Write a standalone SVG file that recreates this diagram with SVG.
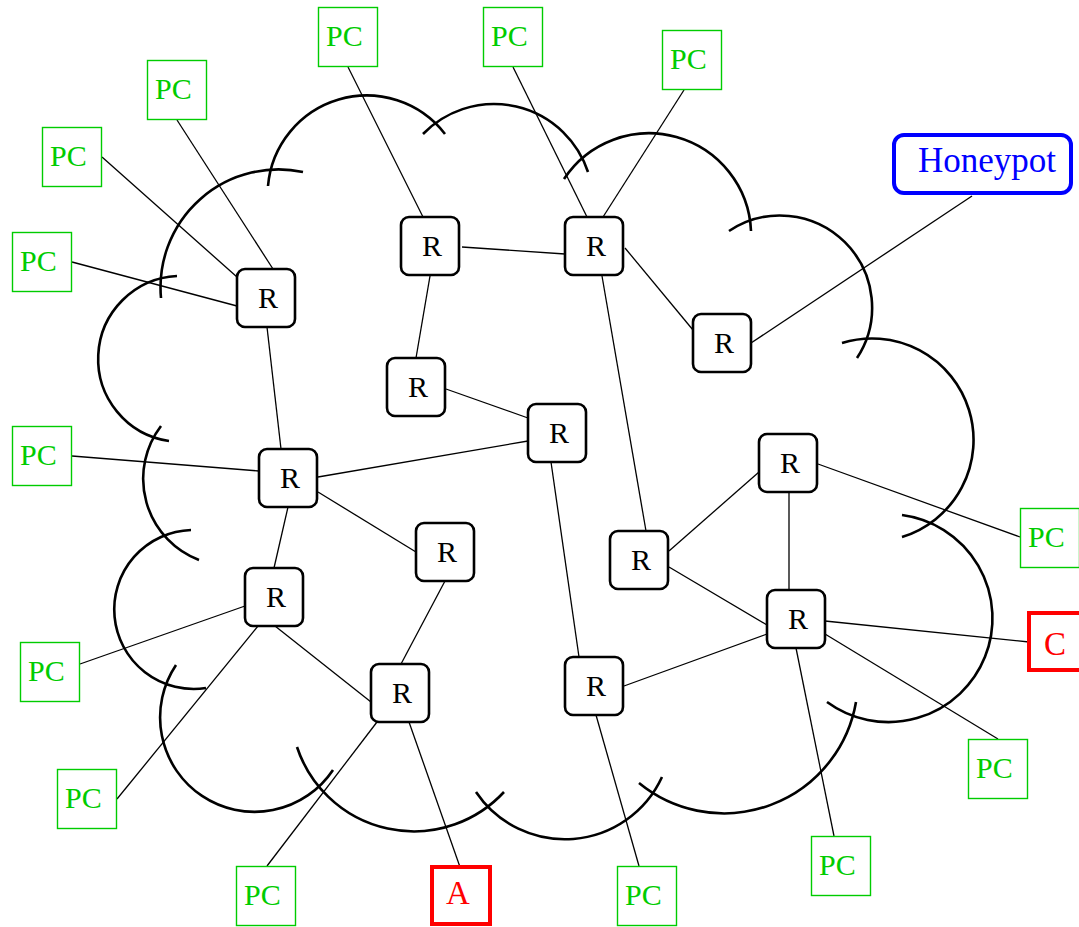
<svg xmlns="http://www.w3.org/2000/svg" width="1079" height="927" viewBox="0 0 1079 927">
<style>
.cloud{fill:none;stroke:#000;stroke-width:2.6}
.ln{stroke:#000;stroke-width:1.3;fill:none}
.r rect{fill:#fff;stroke:#000;stroke-width:2.6}
.r text{font-family:"Liberation Serif",serif;font-size:30px;fill:#000;text-anchor:middle}
.pc rect{fill:#fff;stroke:#00cc00;stroke-width:1.4}
.pc text{font-family:"Liberation Serif",serif;font-size:30px;fill:#00cc00}
.red rect{fill:#fff;stroke:#ff0000;stroke-width:4}
.red text{font-family:"Liberation Serif",serif;font-size:33px;fill:#ff0000;text-anchor:middle}
</style>
<rect width="1079" height="927" fill="#fff"/>
<g id="cloud">
<path class="cloud" d="M268,186 A99,99 0 0 1 445,134"/>
<path class="cloud" d="M423,134 A99,99 0 0 1 588,172"/>
<path class="cloud" d="M564,179 A102,102 0 0 1 751,231"/>
<path class="cloud" d="M729,231 A92,92 0 0 1 857,358"/>
<path class="cloud" d="M842,343 A101,101 0 1 1 902,537"/>
<path class="cloud" d="M902,515 A104,104 0 1 1 827,702"/>
<path class="cloud" d="M856,702 A134,134 0 0 1 639,783"/>
<path class="cloud" d="M662,777 A107,107 0 0 1 476,792"/>
<path class="cloud" d="M504,792 A123,123 0 0 1 297,747"/>
<path class="cloud" d="M333,770 A94,94 0 0 1 176,665"/>
<path class="cloud" d="M206,688 A79.5,79.5 0 1 1 191,530"/>
<path class="cloud" d="M199,560 A87,87 0 0 1 161,426"/>
<path class="cloud" d="M169,441 A83,83 0 0 1 177,276"/>
<path class="cloud" d="M161,298 A118,118 0 0 1 303,172"/>
</g>
<g id="connectors">
<line class="ln" x1="102" y1="157" x2="237" y2="277"/>
<line class="ln" x1="177" y1="120" x2="273" y2="269"/>
<line class="ln" x1="72" y1="262" x2="237" y2="306"/>
<line class="ln" x1="348" y1="67" x2="423" y2="217"/>
<line class="ln" x1="513" y1="67" x2="587" y2="217"/>
<line class="ln" x1="684" y1="90" x2="603" y2="217"/>
<line class="ln" x1="462" y1="247" x2="565" y2="254"/>
<line class="ln" x1="430" y1="276" x2="416" y2="358"/>
<line class="ln" x1="602" y1="276" x2="646" y2="531"/>
<line class="ln" x1="625" y1="248" x2="693" y2="330"/>
<line class="ln" x1="972" y1="196" x2="751" y2="343"/>
<line class="ln" x1="267" y1="327" x2="281" y2="449"/>
<line class="ln" x1="72" y1="456" x2="259" y2="471"/>
<line class="ln" x1="318" y1="477" x2="528" y2="441"/>
<line class="ln" x1="318" y1="492" x2="416" y2="552"/>
<line class="ln" x1="288" y1="507" x2="274" y2="568"/>
<line class="ln" x1="245" y1="606" x2="80" y2="664"/>
<line class="ln" x1="446" y1="389" x2="528" y2="418"/>
<line class="ln" x1="551" y1="462" x2="579" y2="657"/>
<line class="ln" x1="445" y1="581" x2="401" y2="664"/>
<line class="ln" x1="669" y1="551" x2="759" y2="472"/>
<line class="ln" x1="669" y1="567" x2="767" y2="625"/>
<line class="ln" x1="818" y1="464" x2="1020" y2="537"/>
<line class="ln" x1="789" y1="492" x2="789" y2="590"/>
<line class="ln" x1="258" y1="626" x2="117" y2="799"/>
<line class="ln" x1="275" y1="626" x2="371" y2="702"/>
<line class="ln" x1="377" y1="722" x2="267" y2="866"/>
<line class="ln" x1="409" y1="722" x2="460" y2="867"/>
<line class="ln" x1="596" y1="715" x2="639" y2="866"/>
<line class="ln" x1="624" y1="686" x2="767" y2="634"/>
<line class="ln" x1="825" y1="621" x2="1029" y2="642"/>
<line class="ln" x1="825" y1="634" x2="998" y2="739"/>
<line class="ln" x1="796" y1="648" x2="834" y2="836"/>
</g>
<g id="R1" class="r"><rect x="237" y="269" width="58" height="58" rx="8"/><text x="268" y="308">R</text></g>
<g id="R2" class="r"><rect x="401" y="217" width="58" height="58" rx="8"/><text x="432" y="256">R</text></g>
<g id="R3" class="r"><rect x="565" y="217" width="58" height="58" rx="8"/><text x="596" y="256">R</text></g>
<g id="R4" class="r"><rect x="693" y="314" width="58" height="58" rx="8"/><text x="724" y="353">R</text></g>
<g id="R5" class="r"><rect x="387" y="358" width="58" height="58" rx="8"/><text x="418" y="397">R</text></g>
<g id="R6" class="r"><rect x="528" y="404" width="58" height="58" rx="8"/><text x="559" y="443">R</text></g>
<g id="R7" class="r"><rect x="259" y="449" width="58" height="58" rx="8"/><text x="290" y="488">R</text></g>
<g id="R8" class="r"><rect x="416" y="523" width="58" height="58" rx="8"/><text x="447" y="562">R</text></g>
<g id="R9" class="r"><rect x="610" y="531" width="58" height="58" rx="8"/><text x="641" y="570">R</text></g>
<g id="R10" class="r"><rect x="759" y="434" width="58" height="58" rx="8"/><text x="790" y="473">R</text></g>
<g id="R11" class="r"><rect x="767" y="590" width="58" height="58" rx="8"/><text x="798" y="629">R</text></g>
<g id="R12" class="r"><rect x="245" y="568" width="58" height="58" rx="8"/><text x="276" y="607">R</text></g>
<g id="R13" class="r"><rect x="371" y="664" width="58" height="58" rx="8"/><text x="402" y="703">R</text></g>
<g id="R14" class="r"><rect x="565" y="657" width="58" height="58" rx="8"/><text x="596" y="696">R</text></g>
<g id="PC1" class="pc"><rect x="318.5" y="7.5" width="59" height="59"/><text x="326" y="46">PC</text></g>
<g id="PC2" class="pc"><rect x="147.5" y="60.5" width="59" height="59"/><text x="155" y="99">PC</text></g>
<g id="PC3" class="pc"><rect x="42.5" y="127.5" width="59" height="59"/><text x="50" y="166">PC</text></g>
<g id="PC4" class="pc"><rect x="12.5" y="232.5" width="59" height="59"/><text x="20" y="271">PC</text></g>
<g id="PC5" class="pc"><rect x="483.5" y="7.5" width="59" height="59"/><text x="491" y="46">PC</text></g>
<g id="PC6" class="pc"><rect x="662.5" y="30.5" width="59" height="59"/><text x="670" y="69">PC</text></g>
<g id="PC7" class="pc"><rect x="12.5" y="426.5" width="59" height="59"/><text x="20" y="465">PC</text></g>
<g id="PC8" class="pc"><rect x="20.5" y="642.5" width="59" height="59"/><text x="28" y="681">PC</text></g>
<g id="PC9" class="pc"><rect x="57.5" y="769.5" width="59" height="59"/><text x="65" y="808">PC</text></g>
<g id="PC10" class="pc"><rect x="236.5" y="866.5" width="59" height="59"/><text x="244" y="905">PC</text></g>
<g id="PC11" class="pc"><rect x="617.5" y="866.5" width="59" height="59"/><text x="625" y="905">PC</text></g>
<g id="PC12" class="pc"><rect x="811.5" y="836.5" width="59" height="59"/><text x="819" y="875">PC</text></g>
<g id="PC13" class="pc"><rect x="968.5" y="739.5" width="59" height="59"/><text x="976" y="778">PC</text></g>
<g id="PC14" class="pc"><rect x="1020.5" y="508.5" width="59" height="59"/><text x="1028" y="547">PC</text></g>
<g id="A" class="red"><rect x="432" y="867" width="58" height="57"/><text x="458" y="904">A</text></g>
<g id="C" class="red"><rect x="1029" y="613" width="60" height="57"/><text x="1055" y="655">C</text></g>
<g id="Honeypot"><rect x="894" y="135" width="177" height="58" rx="10" fill="#fff" stroke="#0000ff" stroke-width="4"/><text x="987" y="172" font-family="Liberation Serif, serif" font-size="35" fill="#0000ff" text-anchor="middle">Honeypot</text></g>
</svg>
